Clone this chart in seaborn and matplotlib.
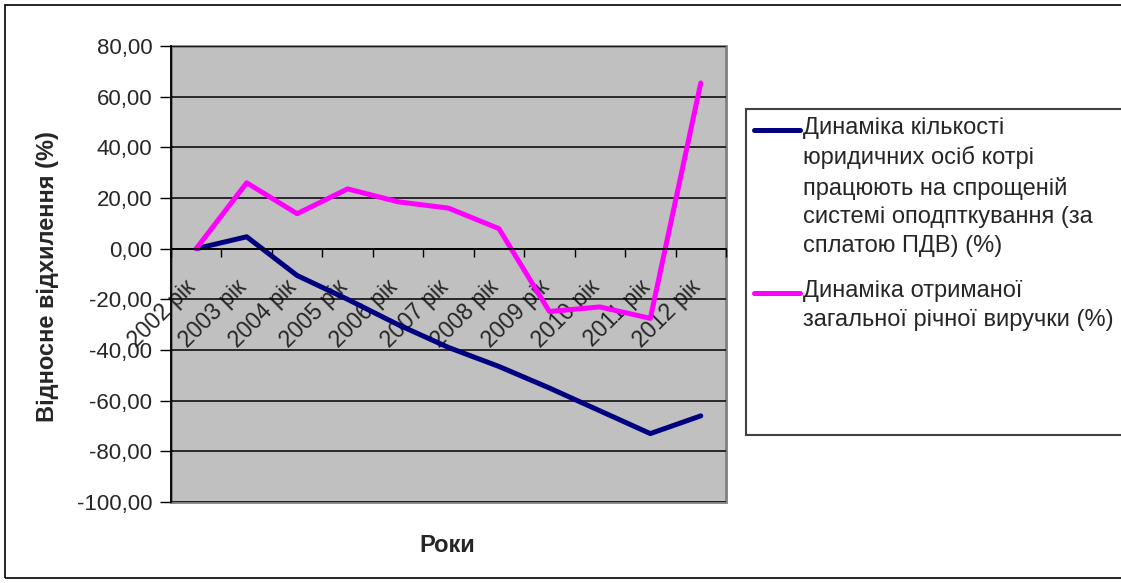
import numpy as np
import pandas as pd
import matplotlib
matplotlib.use('Agg')
import matplotlib.pyplot as plt
import seaborn as sns
from matplotlib.lines import Line2D
from matplotlib.patches import Rectangle
from matplotlib.ticker import FuncFormatter, FixedLocator
import matplotlib.transforms as mtransforms

sns.set_style('white')
plt.rcParams['font.family'] = ['Liberation Sans', 'DejaVu Sans']

# Data
years = ['2002 рік', '2003 рік', '2004 рік', '2005 рік', '2006 рік', '2007 рік',
         '2008 рік', '2009 рік', '2010 рік', '2011 рік', '2012 рік']
legal_entities = [0.0, 4.7, -10.6, -20.0, -30.0, -39.0, -46.5, -55.0, -64.0, -73.0, -66.0]
revenue = [0.0, 26.0, 13.8, 23.6, 18.5, 16.0, 7.9, -24.8, -23.0, -27.5, 65.4]

label_entities = ('Динаміка кількості\nюридичних осіб котрі\nпрацюють на спрощеній\n'
                  'системі оподпткування (за\nсплатою ПДВ) (%)')
label_revenue = 'Динаміка отриманої\nзагальної річної виручки (%)'

df = pd.DataFrame({
    'year': years * 2,
    'value': legal_entities + revenue,
    'series': [label_entities] * len(years) + [label_revenue] * len(years),
})
colors = {label_entities: '#000080', label_revenue: '#FF00FF'}

W, H = 1121, 583
fig = plt.figure(figsize=(W / 100, H / 100), dpi=100)
fig.patch.set_facecolor('white')

# outer chart border
fig.add_artist(Rectangle((5 / W, 5 / H), 1.2, (578 - 5) / H, transform=fig.transFigure,
                         fill=False, edgecolor='black', lw=1.2))

ax = fig.add_axes([171 / W, (H - 502) / H, (726 - 171) / W, (502 - 46) / H])
ax.set_facecolor('#C0C0C0')
ax.patch.set_edgecolor('#808080')
ax.patch.set_linewidth(2)

sns.lineplot(data=df, x='year', y='value', hue='series', palette=colors,
             linewidth=3.6, ax=ax, legend=False, sort=False)

ax.set_xlim(-0.5, len(years) - 0.5)
ax.set_ylim(-100, 80)
ax.set_yticks(np.arange(-100, 81, 20))
ax.yaxis.set_major_formatter(FuncFormatter(lambda v, p: f'{v:.2f}'.replace('.', ',')))
ax.grid(axis='y', color='black', lw=1.1)
ax.set_axisbelow(True)

for s in ['top', 'right']:
    ax.spines[s].set_visible(False)
ax.spines['left'].set_color('black')
ax.spines['left'].set_linewidth(1.3)
ax.spines['bottom'].set_position(('data', 0))
ax.spines['bottom'].set_color('black')
ax.spines['bottom'].set_linewidth(1.3)

ax.tick_params(axis='y', which='major', direction='out', length=8, width=1, color='black',
               labelsize=16, pad=5.5, left=True)
ax.xaxis.set_minor_locator(FixedLocator(np.arange(-0.5, len(years), 1.0)))
ax.tick_params(axis='x', which='minor', direction='out', length=6, width=1, color='black', bottom=True)
ax.tick_params(axis='x', which='major', length=0, labelsize=16.5, pad=0)
ax.set_xticks(range(len(years)))
ax.set_xticklabels(years, rotation=45, ha='right', va='top', rotation_mode='anchor')
offset = mtransforms.ScaledTranslation(-12 / 100, -27 / 100, fig.dpi_scale_trans)
for t in ax.get_xticklabels():
    t.set_transform(t.get_transform() + offset)

ax.set_xlabel('')
ax.set_ylabel('')
fig.text(48 / W, 1 - 277 / H, 'Відносне відхилення (%)', rotation=90, ha='center', va='center',
         fontsize=17, fontweight='bold')
fig.text(447 / W, 1 - 545 / H, 'Роки', ha='center', va='center', fontsize=17, fontweight='bold')

# legend box
fig.add_artist(Rectangle((746 / W, 1 - 435 / H), 1.0, (435 - 109) / H, transform=fig.transFigure,
                         facecolor='white', edgecolor='#404040', lw=1.5))
entries = [(label_entities, 130), (label_revenue, 293)]
for lab, yc in entries:
    fig.add_artist(Line2D([754 / W, 800 / W], [1 - yc / H] * 2, transform=fig.transFigure,
                          color=colors[lab], lw=3.6, solid_capstyle='round'))
    fig.text(803 / W, 1 - (yc - 13) / H, lab, ha='left', va='top', fontsize=17, linespacing=1.4)

fig.savefig('out.png', dpi=100)
